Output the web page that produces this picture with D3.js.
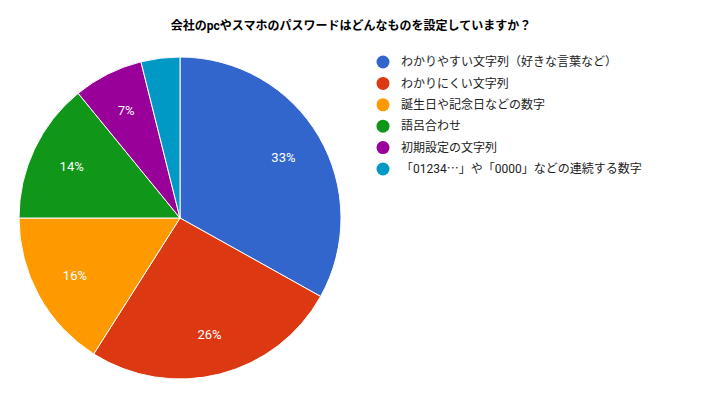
<!DOCTYPE html>
<meta charset="utf-8">
<head>
  <title>Pie</title>
</head>
<style>
body { margin: 0; background: #fff; }
text { font-family: Roboto, "Noto Sans CJK JP", sans-serif; }
.cjk { font-family: "Noto Sans CJK JP", sans-serif; }
</style>
<body>
  <svg width="709" height="398"></svg>
  <script src="https://cdnjs.cloudflare.com/ajax/libs/d3/7.8.5/d3.min.js"></script>
  <script>
var width = 709, height = 398
var title = '会社のpcやスマホのパスワードはどんなものを設定していますか？'
var categories = ['わかりやすい文字列（好きな言葉など）', 'わかりにくい文字列', '誕生日や記念日などの数字', '語呂合わせ', '初期設定の文字列', '「01234…」や「0000」などの連続する数字']
var values = [33.1, 25.9, 16.0, 14.1, 7.0, 3.9]
var colors = ['#3366cc', '#dc3912', '#ff9900', '#109618', '#990099', '#0099c6']

var svg = d3.select('svg')
var cx = 180, cy = 218, r = 161

svg.append('text')
  .attr('x', 351).attr('y', 30)
  .attr('text-anchor', 'middle')
  .attr('font-size', 12).attr('font-weight', 'bold')
  .attr('fill', '#000')
  .text(title)

var pie = d3.pie().sort(null)
var arcs = pie(values)
var total = d3.sum(values)
var arc = d3.arc().innerRadius(0).outerRadius(r)
var labelArc = d3.arc().innerRadius(r * 0.745).outerRadius(r * 0.745)

var g = svg.append('g').attr('transform', 'translate(' + cx + ',' + cy + ')')

g.selectAll('path')
  .data(arcs)
  .enter().append('path')
  .attr('d', arc)
  .attr('fill', function(d, i) { return colors[i] })
  .attr('stroke', '#fff')
  .attr('stroke-width', 1)

// small slices get no label
g.selectAll('text')
  .data(arcs.filter(function(d) { return d.data / total > 0.05 }))
  .enter().append('text')
  .attr('transform', function(d) { return 'translate(' + labelArc.centroid(d) + ')' })
  .attr('text-anchor', 'middle')
  .attr('dy', '0.35em')
  .attr('font-size', 13)
  .attr('fill', '#fff')
  .text(function(d) { return Math.round(d.data / total * 100) + '%' })

var legend = svg.append('g').attr('transform', 'translate(383,62)')
var row = legend.selectAll('g')
  .data(categories)
  .enter().append('g')
  .attr('transform', function(d, i) { return 'translate(0,' + i * 21.4 + ')' })

row.append('circle')
  .attr('r', 6.5)
  .attr('fill', function(d, i) { return colors[i] })

// the ellipsis is drawn wide, as in the CJK font
row.append('text')
  .attr('x', 18)
  .attr('dy', '0.35em')
  .attr('font-size', 12)
  .attr('fill', '#222')
  .each(function(d) {
    var t = d3.select(this)
    d.split(/(…)/).forEach(function(part) {
      if (!part) return
      t.append('tspan')
        .attr('class', part === '…' ? 'cjk' : null)
        .text(part)
    })
  })
  </script>
</body>
</html>
